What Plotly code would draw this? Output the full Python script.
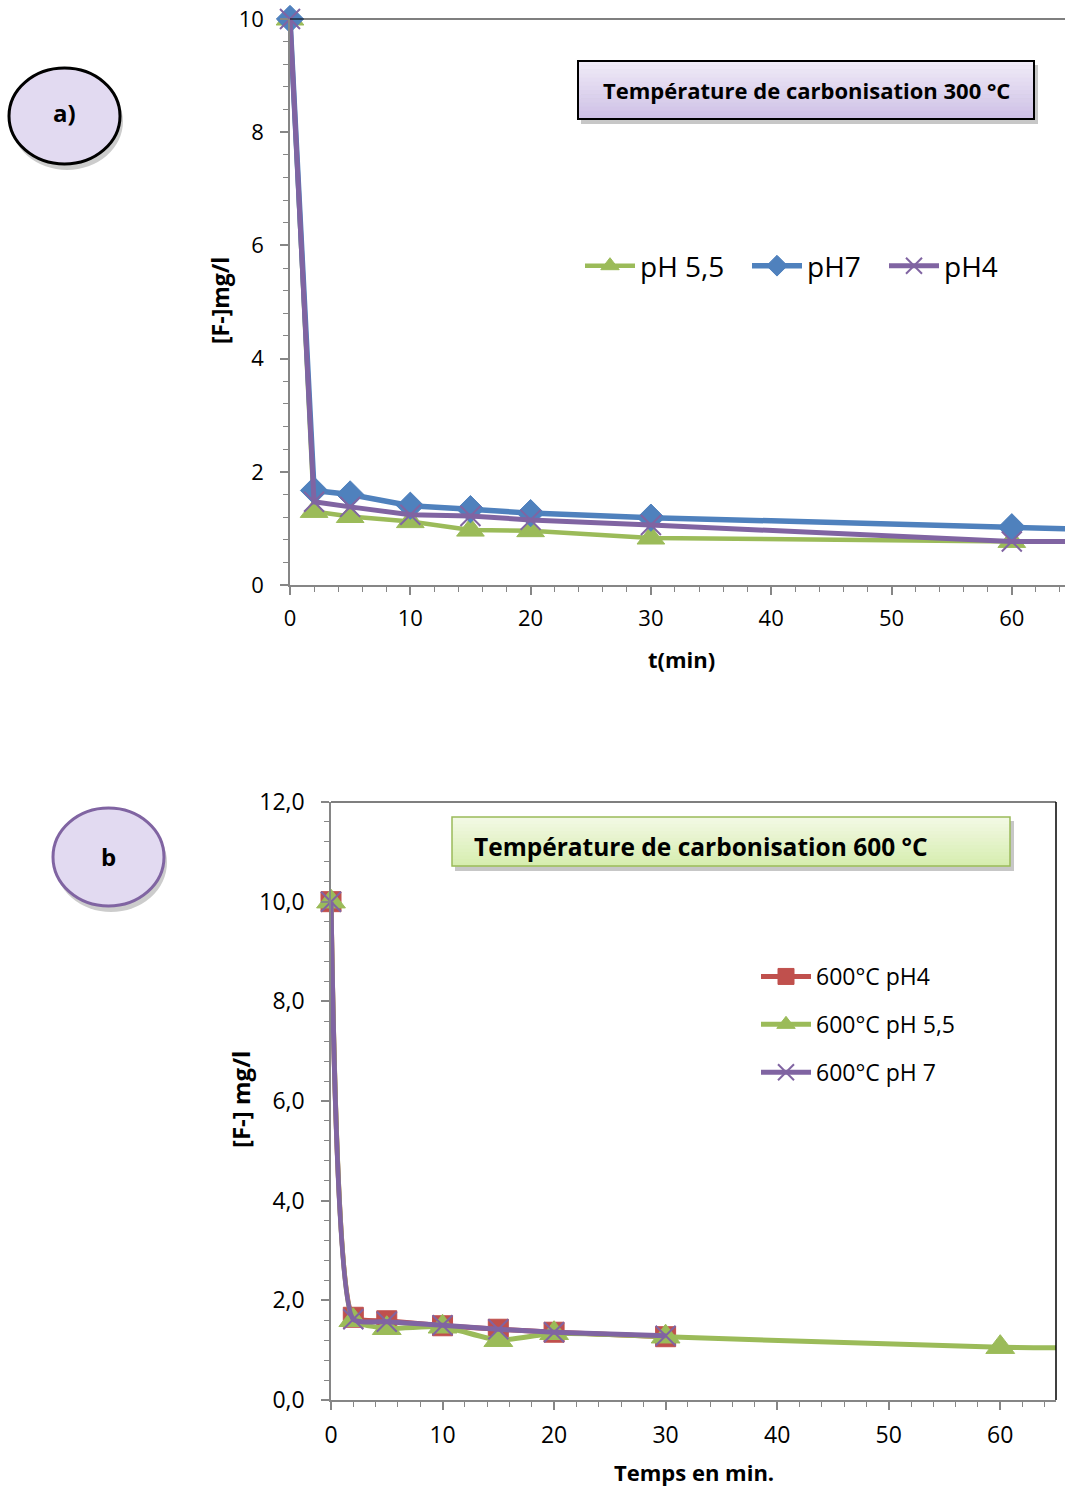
import plotly.graph_objects as go

# ---------------- data ----------------
# Panel a (300 °C)
t_a = [0, 2, 5, 10, 15, 20, 30, 60, 90]
a_ph55 = [10, 1.30, 1.21, 1.12, 0.97, 0.96, 0.83, 0.77, 0.75]
a_ph7 = [10, 1.67, 1.60, 1.40, 1.34, 1.27, 1.19, 1.02, 0.85]
a_ph4 = [10, 1.47, 1.38, 1.24, 1.22, 1.15, 1.06, 0.77, 0.76]
names_a = ["pH 5,5", "pH7", "pH4"]

# Panel b (600 °C)
t_b = [0, 2, 5, 10, 15, 20, 30, 60, 90]
b_ph4 = [10, 1.66, 1.59, 1.49, 1.42, 1.36, 1.27]
b_ph55 = [10, 1.60, 1.44, 1.47, 1.20, 1.34, 1.27, 1.06, 1.03]
b_ph7 = [10, 1.62, 1.57, 1.50, 1.42, 1.36, 1.29]
names_b = ["600°C pH4", "600°C pH 5,5", "600°C pH 7"]

title_a = "Température de carbonisation 300 °C"
title_b = "Température de carbonisation 600 °C"

# ---------------- style ----------------
W, H = 1065, 1488
GREEN = "#9BBB59"
BLUE = "#4F81BD"
PURPLE = "#8064A2"
RED = "#C0504D"
AXC = "#868686"
FONT = "Open Sans"


def px(x):
    return x / W


def py(y):
    return 1 - y / H


def msizes(n_vis, n_tot, s):
    return [s] * n_vis + [0] * (n_tot - n_vis)


fig = go.Figure()

# Panel a traces
fig.add_trace(go.Scatter(x=t_a, y=a_ph55, name=names_a[0], mode="lines+markers",
                         line=dict(color=GREEN, width=4.5),
                         marker=dict(symbol="triangle-up", size=msizes(8, len(t_a), 24), color=GREEN,
                                     opacity=1, line=dict(color=GREEN, width=1)),
                         cliponaxis=False, xaxis="x", yaxis="y", legend="legend", legendwidth=102))
fig.add_trace(go.Scatter(x=t_a, y=a_ph7, name=names_a[1], mode="lines+markers",
                         line=dict(color=BLUE, width=5.5),
                         marker=dict(symbol="diamond", size=msizes(8, len(t_a), 21), color=BLUE,
                                     opacity=1, line=dict(color=BLUE, width=1)),
                         cliponaxis=False, xaxis="x", yaxis="y", legend="legend", legendwidth=72))
fig.add_trace(go.Scatter(x=t_a, y=a_ph4, name=names_a[2], mode="lines+markers",
                         line=dict(color=PURPLE, width=5),
                         marker=dict(symbol="x-thin", size=msizes(8, len(t_a), 20), opacity=1,
                                     line=dict(color=PURPLE, width=2)),
                         cliponaxis=False, xaxis="x", yaxis="y", legend="legend", legendwidth=64))

# Panel b traces
fig.add_trace(go.Scatter(x=t_b[:len(b_ph4)], y=b_ph4, name=names_b[0], mode="lines+markers",
                         line=dict(color=RED, width=5, shape="spline", smoothing=0.5),
                         marker=dict(symbol="square", size=20, color=RED, opacity=1,
                                     line=dict(color=RED, width=1)),
                         cliponaxis=False, xaxis="x2", yaxis="y2", legend="legend2",
                         legendgroup="g1"))
fig.add_trace(go.Scatter(x=t_b, y=b_ph55, name=names_b[1], mode="lines+markers",
                         line=dict(color=GREEN, width=5, shape="spline", smoothing=0.5),
                         marker=dict(symbol="triangle-up", size=msizes(8, len(t_b), 25), color=GREEN,
                                     opacity=1, line=dict(color=GREEN, width=1)),
                         cliponaxis=False, xaxis="x2", yaxis="y2", legend="legend2",
                         legendgroup="g2"))
fig.add_trace(go.Scatter(x=t_b[:len(b_ph7)], y=b_ph7, name=names_b[2], mode="lines+markers",
                         line=dict(color=PURPLE, width=5, shape="spline", smoothing=0.5),
                         marker=dict(symbol="x-thin", size=20, opacity=1,
                                     line=dict(color=PURPLE, width=2)),
                         cliponaxis=False, xaxis="x2", yaxis="y2", legend="legend2",
                         legendgroup="g3"))

axis_common = dict(showline=True, linecolor=AXC, linewidth=1.5, ticks="outside",
                   tickcolor=AXC, tickwidth=1.5, ticklen=8, showgrid=False, zeroline=False,
                   automargin=False)

fig.update_layout(
    width=W, height=H, autosize=False,
    margin=dict(l=0, r=0, t=0, b=0, pad=0, autoexpand=False),
    paper_bgcolor="white", plot_bgcolor="white",
    separators=", ",
    font=dict(family=FONT, color="black"),
    showlegend=True,
    xaxis=dict(domain=[px(290), 1.0], range=[0, (W - 290) / 12.03], anchor="y", dtick=10, tick0=0,
               minor=dict(dtick=2, ticks="outside", ticklen=5, tickcolor=AXC, tickwidth=1),
               tickfont=dict(size=22), ticklabelstandoff=5, **axis_common),
    yaxis=dict(domain=[py(585), py(19)], range=[0, 10], anchor="x", dtick=2, tick0=0,
               minor=dict(dtick=0.4, ticks="outside", ticklen=5, tickcolor=AXC, tickwidth=1),
               tickfont=dict(size=22), ticklabelstandoff=12, **axis_common),
    xaxis2=dict(domain=[px(331), px(1056)], range=[0, 65], anchor="y2", dtick=10, tick0=0,
                minor=dict(dtick=2, ticks="outside", ticklen=5, tickcolor=AXC, tickwidth=1),
                tickfont=dict(size=23), ticklabelstandoff=6, **axis_common),
    yaxis2=dict(domain=[py(1400), py(802)], range=[0, 12], anchor="x2", dtick=2, tick0=0,
                tickformat=".1f",
                minor=dict(dtick=0.4, ticks="outside", ticklen=5, tickcolor=AXC, tickwidth=1),
                tickfont=dict(size=23), ticklabelstandoff=12, **axis_common),
    legend=dict(orientation="h", x=px(580), y=py(266), xanchor="left", yanchor="middle",
                font=dict(size=28), bgcolor="rgba(0,0,0,0)", itemwidth=50,
                traceorder="normal"),
    legend2=dict(orientation="v", x=px(756), y=py(955), xanchor="left", yanchor="top",
                 font=dict(size=23), bgcolor="rgba(0,0,0,0)", itemwidth=50,
                 tracegroupgap=15, traceorder="grouped"),
)

shapes = []
# plot-area borders (top for a; top + right for b)
shapes.append(dict(type="line", xref="x domain", yref="y domain", x0=0, x1=1, y0=1, y1=1,
                   line=dict(color="black", width=1.2)))
shapes.append(dict(type="line", xref="x2 domain", yref="y2 domain", x0=0, x1=1, y0=1, y1=1,
                   line=dict(color="black", width=1.2)))
shapes.append(dict(type="line", xref="x2 domain", yref="y2 domain", x0=1, x1=1, y0=0, y1=1,
                   line=dict(color="black", width=1.5)))


def grad_rect(x0, y0, x1, y1, c_top, c_bot, border, bw, n=14):
    # shadow
    shapes.append(dict(type="rect", xref="paper", yref="paper",
                       x0=px(x0 + 3), x1=px(x1 + 4), y0=py(y1 + 5), y1=py(y0 + 4),
                       line=dict(width=0), fillcolor="rgba(0,0,0,0.22)", layer="below"))
    r0, g0, b0 = [int(c_top[i:i + 2], 16) for i in (1, 3, 5)]
    r1, g1, b1 = [int(c_bot[i:i + 2], 16) for i in (1, 3, 5)]
    for i in range(n):
        f = (i + 0.5) / n
        col = "rgb(%d,%d,%d)" % (r0 + (r1 - r0) * f, g0 + (g1 - g0) * f, b0 + (b1 - b0) * f)
        ya = y0 + (y1 - y0) * i / n
        yb = y0 + (y1 - y0) * (i + 1) / n
        shapes.append(dict(type="rect", xref="paper", yref="paper",
                           x0=px(x0), x1=px(x1), y0=py(yb + 0.5), y1=py(ya),
                           line=dict(width=0), fillcolor=col, layer="below"))
    shapes.append(dict(type="rect", xref="paper", yref="paper",
                       x0=px(x0), x1=px(x1), y0=py(y1), y1=py(y0),
                       line=dict(color=border, width=bw), fillcolor="rgba(0,0,0,0)", layer="below"))


def ellipse(x0, y0, x1, y1, fill, border, bw):
    shapes.append(dict(type="circle", xref="paper", yref="paper",
                       x0=px(x0 + 2), x1=px(x1 + 3), y0=py(y1 + 6), y1=py(y0 + 5),
                       line=dict(width=0), fillcolor="rgba(0,0,0,0.20)", layer="below"))
    shapes.append(dict(type="circle", xref="paper", yref="paper",
                       x0=px(x0), x1=px(x1), y0=py(y1), y1=py(y0),
                       line=dict(color=border, width=bw), fillcolor=fill, layer="below"))


grad_rect(578, 61, 1034, 119, "#F1ECF8", "#CEC0E6", "black", 2)
grad_rect(452, 817, 1010, 866, "#F4FAE6", "#D6EDAE", GREEN, 1.5)
ellipse(9, 68, 120, 164, "#E2DAF1", "black", 3)
ellipse(53, 808, 164, 906, "#E2DAF1", PURPLE, 3)

fig.update_layout(shapes=shapes)

ann = []


def text(x, y, s, size, angle=0, xanchor="center"):
    ann.append(dict(x=px(x), y=py(y), xref="paper", yref="paper", text=s, showarrow=False,
                    font=dict(size=size, family=FONT, color="black"), textangle=angle,
                    xanchor=xanchor, yanchor="middle"))


text(806, 90, "<b>" + title_a + "</b>", 22)
text(472, 846, "<b>" + title_b + "</b>", 24.5, xanchor="left")
text(64, 113, "<b>a)</b>", 24)
text(108, 856, "<b>b</b>", 24)
text(220, 301, "<b>[F-]mg/l</b>", 23, angle=-90)
text(681, 659, "<b>t(min)</b>", 22)
text(240, 1100, "<b>[F-] mg/l</b>", 24, angle=-90)
text(694, 1472, "<b>Temps en min.</b>", 22)

fig.update_layout(annotations=ann)

# pin the graph to the top-left corner of the page (no body margin offset)
post = ("var gd=document.getElementById('{plot_id}');"
        "document.documentElement.style.margin='0';document.documentElement.style.padding='0';"
        "document.body.style.margin='0';document.body.style.padding='0';"
        "document.body.style.overflow='hidden';"
        "gd.style.position='fixed';gd.style.left='0px';gd.style.top='0px';")

fig.write_html("out.html", post_script=post, config={"displayModeBar": False})
